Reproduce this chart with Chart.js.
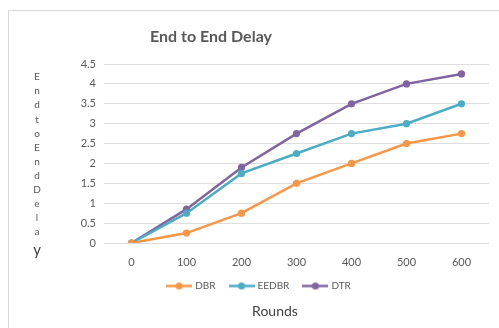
<!DOCTYPE html>
<html>
<head>
<meta charset="utf-8">
<script src="https://cdn.jsdelivr.net/npm/chart.js@4"></script>
<style>
  html, body { margin: 0; padding: 0; background: #fff; overflow: hidden; }
  #wrap { position: relative; width: 499px; height: 328px; }
  #frame { position: absolute; left: 8px; top: 10px; width: 600px; height: 400px; border: 1px solid #d9d9d9; pointer-events: none; }
</style>
</head>
<body>
<div id="wrap">
  <canvas id="delayChart" width="499" height="328"></canvas>
  <div id="frame"></div>
</div>
<script>
// values
const rounds = ['0', '100', '200', '300', '400', '500', '600'];
const dbr = [0, 0.25, 0.75, 1.5, 2, 2.5, 2.75];
const eedbr = [0, 0.75, 1.75, 2.25, 2.75, 3, 3.5];
const dtr = [0, 0.85, 1.9, 2.75, 3.5, 4, 4.25];
const seriesNames = ['DBR', 'EEDBR', 'DTR'];
const yAxisLetters = ['E', 'n', 'd', 't', 'o', 'E', 'n', 'd', 'D', 'e', 'l', 'a', 'y'];

const colors = ['#F79646', '#4BACC6', '#8064A2'];
const font = 'Lato, "Open Sans", sans-serif';

// little "line with dot" icon for the legend, like Excel draws it
function legendIcon(color) {
    const c = document.createElement('canvas');
    c.width = 26;
    c.height = 9;
    const ctx = c.getContext('2d');
    ctx.strokeStyle = color;
    ctx.lineWidth = 2.5;
    ctx.beginPath();
    ctx.moveTo(0, 4.5);
    ctx.lineTo(26, 4.5);
    ctx.stroke();
    ctx.fillStyle = color;
    ctx.beginPath();
    ctx.arc(13, 4.5, 3.6, 0, Math.PI * 2);
    ctx.fill();
    return c;
}
const icons = colors.map(legendIcon);

// chart title and the stacked y label; also nudge "Rounds" to the right
const textPlugin = {
    id: 'extraText',
    afterLayout(chart) {
        const t = chart.titleBlock;
        t.left += 15.5;
        t.right += 15.5;
    },
    afterDraw(chart) {
        const ctx = chart.ctx;
        ctx.save();
        ctx.textAlign = 'center';
        ctx.textBaseline = 'middle';
        ctx.fillStyle = '#595959';
        ctx.font = 'bold 16px ' + font;
        ctx.fillText('End to End Delay', 211, 37);

        ctx.font = '10px ' + font;
        yAxisLetters.forEach((ch, i) => {
            if (i === yAxisLetters.length - 1) {
                ctx.font = '15px ' + font;
                ctx.fillStyle = '#404040';
                ctx.fillText(ch, 37, 250);
            } else {
                ctx.fillText(ch, 37, 77 + i * 14.1);
            }
        });
        ctx.restore();
    }
};

function makeDataset(i, values) {
    return {
        label: seriesNames[i],
        data: values,
        borderColor: colors[i],
        backgroundColor: colors[i],
        borderWidth: 2.5,
        pointRadius: 3.6,
        pointBorderWidth: 0,
        pointHoverRadius: 4,
        tension: 0
    };
}

const chart = new Chart(document.getElementById('delayChart'), {
    type: 'line',
    data: {
        labels: rounds,
        datasets: [makeDataset(0, dbr), makeDataset(1, eedbr), makeDataset(2, dtr)]
    },
    options: {
        responsive: false,
        animation: false,
        layout: { padding: { top: 64, left: 30, right: 10, bottom: 8.6 } },
        scales: {
            x: {
                type: 'category',
                offset: true,
                // padding counts twice in the fit, so pin the height
                afterFit(scale) { scale.height = 23; },
                grid: { display: false, drawTicks: false },
                border: { display: false },
                ticks: { color: '#595959', font: { family: font, size: 11 }, padding: 13 }
            },
            y: {
                min: 0,
                max: 4.5,
                afterFit(scale) { scale.width = 74; },
                grid: { color: '#dedede', lineWidth: 1, drawTicks: false },
                border: { display: false },
                ticks: {
                    stepSize: 0.5,
                    color: '#595959',
                    font: { family: font, size: 11 },
                    padding: 8,
                    callback: (v) => String(v)
                }
            }
        },
        plugins: {
            // x axis name sits under the legend, so it goes in the bottom title
            title: {
                display: true,
                position: 'bottom',
                text: 'Rounds',
                color: '#404040',
                font: { family: font, size: 14, weight: 'normal' },
                padding: { top: 1.6, bottom: 0 }
            },
            legend: {
                position: 'bottom',
                labels: {
                    usePointStyle: true,
                    pointStyleWidth: 22,
                    padding: 15,
                    color: '#595959',
                    font: { family: font, size: 10 },
                    generateLabels(c) {
                        return Chart.defaults.plugins.legend.labels.generateLabels(c)
                            .map((l, i) => ({ ...l, pointStyle: icons[i] }));
                    }
                }
            },
            tooltip: { enabled: false }
        }
    },
    plugins: [textPlugin]
});
</script>
</body>
</html>
